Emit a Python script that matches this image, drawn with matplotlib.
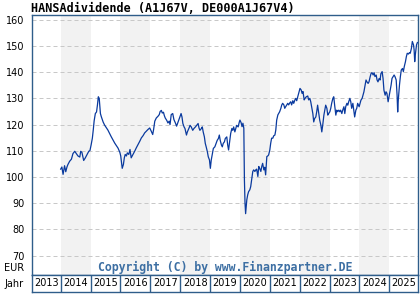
import matplotlib
matplotlib.use("Agg")
import matplotlib.pyplot as plt

# fund price (EUR), x as decimal year
dates = [
    2014.00, 2014.04, 2014.08, 2014.13, 2014.17, 2014.21, 2014.24, 2014.30, 2014.36, 2014.41,
    2014.47, 2014.52, 2014.58, 2014.64, 2014.67, 2014.71, 2014.77, 2014.82, 2014.88, 2014.94,
    2014.98, 2015.02, 2015.06, 2015.09, 2015.12, 2015.16, 2015.20, 2015.23, 2015.26, 2015.29,
    2015.33, 2015.36, 2015.42, 2015.47, 2015.58, 2015.69, 2015.81, 2015.92, 2015.98,
    2016.01, 2016.03, 2016.06, 2016.10, 2016.13, 2016.16, 2016.20, 2016.23, 2016.28, 2016.32,
    2016.36, 2016.42, 2016.48, 2016.53, 2016.59, 2016.65, 2016.70, 2016.76, 2016.81, 2016.87,
    2016.92, 2016.98, 2017.03, 2017.08, 2017.11, 2017.15, 2017.20, 2017.26, 2017.30, 2017.33,
    2017.37, 2017.40, 2017.44, 2017.47, 2017.50, 2017.55, 2017.59, 2017.63, 2017.66, 2017.70,
    2017.75, 2017.79, 2017.84, 2017.88, 2017.93, 2017.99,
    2018.03, 2018.06, 2018.09, 2018.13, 2018.16, 2018.21, 2018.24, 2018.29, 2018.33, 2018.37,
    2018.42, 2018.46, 2018.51, 2018.55, 2018.60, 2018.63, 2018.66, 2018.71, 2018.74, 2018.77,
    2018.81, 2018.84, 2018.87, 2018.91, 2018.94, 2018.98, 2019.01, 2019.04, 2019.08, 2019.11,
    2019.16, 2019.20, 2019.24, 2019.28, 2019.31, 2019.34, 2019.38, 2019.41, 2019.44, 2019.48,
    2019.51, 2019.56, 2019.59, 2019.62, 2019.66, 2019.69, 2019.73, 2019.76, 2019.79, 2019.83,
    2019.86, 2019.89, 2019.94, 2019.98,
    2020.00, 2020.04, 2020.07, 2020.10, 2020.13, 2020.15, 2020.17, 2020.19, 2020.23, 2020.26,
    2020.29, 2020.33, 2020.36, 2020.40, 2020.43, 2020.46, 2020.50, 2020.53, 2020.56, 2020.60,
    2020.63, 2020.66, 2020.70, 2020.73, 2020.76, 2020.80, 2020.83, 2020.86, 2020.90, 2020.93,
    2020.96, 2021.00, 2021.03, 2021.06, 2021.10, 2021.13, 2021.17, 2021.20, 2021.23, 2021.27,
    2021.30, 2021.33, 2021.37, 2021.40, 2021.43, 2021.47, 2021.50, 2021.53, 2021.57, 2021.60,
    2021.63, 2021.67, 2021.70, 2021.73, 2021.77, 2021.80, 2021.84, 2021.87, 2021.90, 2021.95,
    2021.99,
    2022.01, 2022.05, 2022.08, 2022.11, 2022.15, 2022.18, 2022.22, 2022.27, 2022.30, 2022.34,
    2022.37, 2022.40, 2022.44, 2022.47, 2022.50, 2022.54, 2022.57, 2022.60, 2022.64, 2022.67,
    2022.71, 2022.74, 2022.77, 2022.81, 2022.84, 2022.87, 2022.91, 2022.94, 2022.97, 2023.01,
    2023.04, 2023.07, 2023.11, 2023.14, 2023.17, 2023.21, 2023.24, 2023.27, 2023.31, 2023.34,
    2023.37, 2023.41, 2023.44, 2023.48, 2023.51, 2023.54, 2023.58, 2023.61, 2023.64, 2023.68,
    2023.71, 2023.74, 2023.78, 2023.81, 2023.84, 2023.88, 2023.91, 2023.94,
    2023.99, 2024.02, 2024.05, 2024.09, 2024.12, 2024.15, 2024.19, 2024.22, 2024.25, 2024.29,
    2024.32, 2024.36, 2024.39, 2024.42, 2024.46, 2024.49, 2024.52, 2024.56, 2024.59, 2024.62,
    2024.66, 2024.69, 2024.72, 2024.76, 2024.79, 2024.82, 2024.86, 2024.89, 2024.92, 2024.96,
    2024.99, 2025.03, 2025.06, 2025.09, 2025.13, 2025.16, 2025.19, 2025.23, 2025.26, 2025.28,
    2025.30, 2025.34, 2025.37, 2025.40, 2025.44, 2025.47, 2025.50, 2025.54, 2025.57, 2025.60,
    2025.64, 2025.67, 2025.70, 2025.74, 2025.77, 2025.81, 2025.83, 2025.85, 2025.87, 2025.91,
    2025.94,
]
prices = [
    103.0, 103.8, 101.0, 104.3, 102.0, 103.8, 104.7, 106.0, 106.8, 108.9,
    109.8, 109.0, 108.0, 107.6, 109.8, 109.4, 106.3, 107.2, 108.5, 109.8,
    110.1, 112.3, 114.8, 117.9, 121.4, 124.2, 124.8, 127.4, 130.6, 130.0,
    124.2, 123.0, 121.0, 119.8, 117.9, 115.4, 112.9, 111.0, 109.4,
    108.0, 106.0, 103.3, 104.8, 107.3, 108.6, 108.0, 109.2, 108.6, 110.5,
    107.3, 108.6, 109.9, 111.1, 112.4, 113.7, 114.9, 115.8, 116.8, 117.5,
    118.1, 118.7, 117.5, 116.2, 118.1, 121.3, 122.5, 123.2, 123.8, 125.0,
    125.4, 124.4, 124.7, 123.4, 122.5, 121.6, 120.6, 121.3, 120.0, 123.8,
    124.2, 121.9, 120.6, 119.4, 121.0, 122.9,
    124.2, 122.9, 120.4, 119.1, 118.5, 116.0, 117.2, 118.5, 119.7, 119.1,
    117.8, 118.5, 119.1, 119.7, 120.4, 118.7, 117.8, 118.5, 119.1, 117.2,
    115.3, 112.8, 111.5, 109.6, 107.7, 106.5, 103.3, 106.5, 109.0, 110.9,
    111.5, 112.8, 114.0, 114.7, 116.0, 114.0, 112.2, 111.5, 112.8, 113.4,
    114.7, 115.3, 112.2, 110.3, 114.0, 116.6, 118.5, 117.8, 119.1, 117.2,
    118.5, 119.7, 119.1, 121.0,
    121.7, 120.7, 119.2, 120.5, 118.6, 98.9, 90.0, 86.0, 91.3, 93.2,
    94.4, 95.1, 96.3, 99.5, 102.1, 102.7, 102.1, 102.7, 103.0, 100.2,
    104.0, 103.3, 102.1, 104.0, 105.2, 102.7, 103.7, 100.8, 107.8, 108.0,
    108.4, 110.3, 112.9, 114.8, 114.8, 115.7, 116.0, 117.9, 121.7, 123.7,
    124.3, 124.9, 126.2, 127.5, 128.1, 127.5, 126.2, 126.8, 127.5, 128.1,
    127.5, 128.3, 128.7, 127.5, 129.1, 128.1, 129.4, 130.0, 129.1, 131.3,
    132.9,
    133.8, 133.2, 131.9, 132.6, 129.4, 130.0, 130.6, 130.9, 129.4, 130.0,
    128.7, 126.8, 124.2, 121.0, 122.3, 122.9, 124.9, 127.4, 124.2, 121.7,
    119.7, 117.2, 119.7, 123.6, 125.5, 127.4, 126.2, 123.6, 124.2, 124.9,
    126.2, 128.1, 130.0, 130.6, 127.4, 123.6, 125.5, 124.9, 125.5, 124.9,
    125.5, 124.2, 125.5, 126.8, 124.2, 126.8, 128.1, 127.4, 128.7, 130.0,
    128.7, 126.2, 128.1, 125.5, 122.9, 125.5, 126.2, 128.1,
    126.8, 128.0, 129.3, 130.0, 131.2, 132.5, 135.1, 137.0, 136.3, 135.7,
    136.3, 138.3, 139.5, 139.8, 138.9, 139.8, 138.3, 138.9, 137.0, 136.3,
    137.6, 137.0, 139.5, 140.2, 137.6, 133.1, 131.2, 132.5, 131.9, 128.7,
    130.6, 133.1, 135.1, 137.6, 138.3, 138.9, 138.3, 137.0, 131.2, 124.8,
    129.3, 135.1, 138.3, 140.8, 141.4, 140.2, 142.1, 144.0, 145.9, 147.2,
    146.9, 147.4, 147.2, 149.1, 151.7, 150.4, 148.5, 144.0, 146.6, 150.4,
    151.3,
]
year_labels = [str(y) for y in range(2013, 2026)]
y_ticks = [70, 80, 90, 100, 110, 120, 130, 140, 150, 160]

frame_col = "#2f5d8a"
x_lo, x_hi = 2013.04, 2025.96

fig = plt.figure(figsize=(4.2, 3.0), dpi=100)
ax = fig.add_axes([32 / 420, 25 / 300, 386 / 420, 260 / 300])

# alternating year bands
for y in range(2014, 2026, 2):
    ax.axvspan(y, y + 1, color="#f2f2f2", zorder=0, lw=0)

ax.plot(dates, prices, color="#0a3a9e", lw=0.9, zorder=3)

ax.set_xlim(x_lo, x_hi)
ax.set_ylim(62.6, 161.8)
ax.set_yticks(y_ticks)
ax.set_yticklabels([str(v) for v in y_ticks], fontsize=7, family="DejaVu Sans")
ax.tick_params(axis="y", length=0, pad=5.5)
ax.set_xticks([])
ax.set_axisbelow(True)
ax.yaxis.grid(True, color="#c8c8c8", lw=0.72, linestyle=(0, (4, 3)))
for s in ax.spines.values():
    s.set_color(frame_col)
    s.set_linewidth(1.0)

ax.text(0.5, 0.03, "Copyright (C) by www.Finanzpartner.DE", transform=ax.transAxes,
        ha="center", va="center", family="DejaVu Sans Mono", weight="bold",
        fontsize=8.3, color="#3d6fa3")

fig.text(31 / 420, 1 - 9 / 300, "HANSAdividende (A1J67V, DE000A1J67V4)",
         family="DejaVu Sans Mono", weight="bold", fontsize=8.5, ha="left", va="center")
fig.text(24 / 420, 1 - 268 / 300, "EUR", fontsize=7, ha="right", va="center")
fig.text(24 / 420, 1 - 284 / 300, "Jahr", fontsize=7, ha="right", va="center")

# year row
ax2 = fig.add_axes([32 / 420, 8 / 300, 386 / 420, 17 / 300])
ax2.set_xlim(x_lo, x_hi)
ax2.set_ylim(0, 1)
ax2.set_xticks([])
ax2.set_yticks([])
for s in ax2.spines.values():
    s.set_color(frame_col)
    s.set_linewidth(1.0)
edges = [x_lo] + list(range(2014, 2026)) + [x_hi]
for e in range(2014, 2026):
    ax2.axvline(e, color=frame_col, lw=1.0)
for i, lab in enumerate(year_labels):
    ax2.text((edges[i] + edges[i + 1]) / 2, 0.5, lab, ha="center", va="center", fontsize=7)

fig.savefig("out.png", dpi=100)
